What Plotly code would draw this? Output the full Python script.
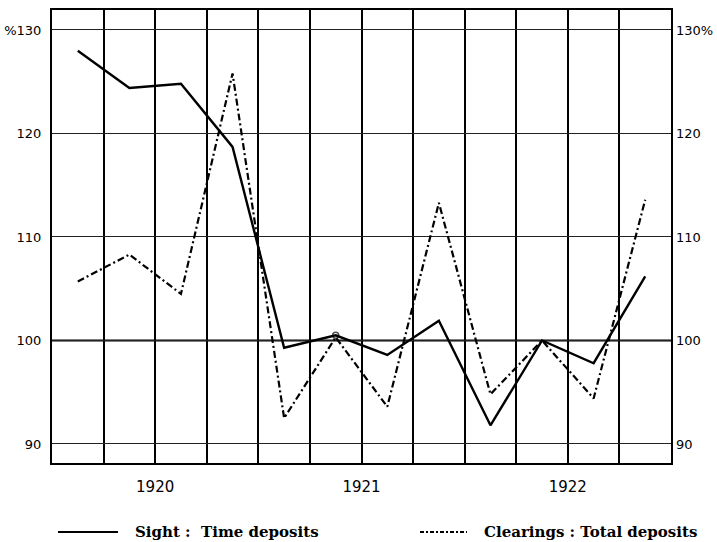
import plotly.graph_objects as go

# Quarterly positions (mid-quarter), year labels at quarter boundaries
quarters = [0.5, 1.5, 2.5, 3.5, 4.5, 5.5, 6.5, 7.5, 8.5, 9.5, 10.5, 11.5]
sight_time = [128.0, 124.4, 124.8, 118.7, 99.3, 100.5, 98.6, 101.9, 91.8, 100.0, 97.8, 106.2]
clearings_total = [105.7, 108.3, 104.5, 125.8, 92.5, 100.3, 93.6, 113.3, 94.8, 100.0, 94.4, 113.6]

year_ticks = [2, 6, 10]
year_labels = ["1920", "1921", "1922"]
y_ticks = [90, 100, 110, 120, 130]
y_left_labels = ["90", "100", "110", "120", "%130"]
y_right_labels = ["90", "100", "110", "120", "130%"]

marker_sizes = [0] * len(quarters)
marker_sizes[5] = 6

fig = go.Figure()
fig.add_trace(go.Scatter(
    x=quarters, y=clearings_total, mode="lines",
    line=dict(color="black", width=2.2, dash="7px,3px,2px,3px"),
    showlegend=False, hoverinfo="skip"))
fig.add_trace(go.Scatter(
    x=quarters, y=sight_time, mode="lines+markers",
    line=dict(color="black", width=2.4),
    marker=dict(size=marker_sizes, symbol="circle-open", color="black", line=dict(width=1.5)),
    showlegend=False, hoverinfo="skip"))
# invisible copy to anchor the right-hand axis
fig.add_trace(go.Scatter(
    x=quarters, y=sight_time, mode="lines", yaxis="y2",
    line=dict(width=0, color="rgba(0,0,0,0)"), showlegend=False, hoverinfo="skip"))

yrange = [88.16, 131.93]

fig.update_layout(
    width=717, height=542,
    margin=dict(l=52, r=46, t=10, b=79, autoexpand=False),
    paper_bgcolor="white", plot_bgcolor="white",
    xaxis=dict(
        range=[0, 12], tickvals=year_ticks, ticktext=year_labels,
        showgrid=True, gridcolor="black", gridwidth=1.6,
        minor=dict(dtick=1, tick0=0, showgrid=True, gridcolor="black", gridwidth=1.6),
        showline=True, linecolor="black", linewidth=2.2, mirror=True,
        ticks="", ticklabelstandoff=9,
        tickfont=dict(family="DejaVu Sans", size=15, color="black"),
        zeroline=False, automargin=False),
    yaxis=dict(
        range=yrange, tickvals=y_ticks, ticktext=y_left_labels,
        showgrid=True, gridcolor="#222", gridwidth=1,
        showline=True, linecolor="black", linewidth=2.2, mirror=True,
        ticks="", ticklabelstandoff=6,
        tickfont=dict(family="DejaVu Sans", size=13, color="black"),
        zeroline=False, automargin=False),
    yaxis2=dict(
        range=yrange, tickvals=y_ticks, ticktext=y_right_labels,
        overlaying="y", side="right", showgrid=False, zeroline=False,
        ticks="", ticklabelstandoff=4, showline=False, automargin=False,
        tickfont=dict(family="DejaVu Sans", size=13, color="black")),
    shapes=[
        dict(type="line", xref="paper", yref="y", x0=0, x1=1, y0=100, y1=100,
             line=dict(color="black", width=2), layer="below"),
        dict(type="line", xref="paper", yref="paper", x0=0.0097, x1=0.1066, y0=-0.1523, y1=-0.1523,
             line=dict(color="black", width=2)),
        dict(type="line", xref="paper", yref="paper", x0=0.5945, x1=0.6704, y0=-0.1523, y1=-0.1523,
             line=dict(color="black", width=2, dash="4px,2px,2px,2px")),
    ],
    annotations=[
        dict(text="<b>Sight :  Time deposits</b>", xref="paper", yref="paper", x=0.1309, y=-0.1523,
             xanchor="left", yanchor="middle", showarrow=False,
             font=dict(family="DejaVu Serif", size=15, color="black")),
        dict(text="<b>Clearings : Total deposits</b>", xref="paper", yref="paper", x=0.6947, y=-0.1523,
             xanchor="left", yanchor="middle", showarrow=False,
             font=dict(family="DejaVu Serif", size=15, color="black")),
    ],
)

fig.write_html("out.html", config={"displayModeBar": False},
               post_script="document.body.style.margin='0';document.body.style.overflow='hidden';")
